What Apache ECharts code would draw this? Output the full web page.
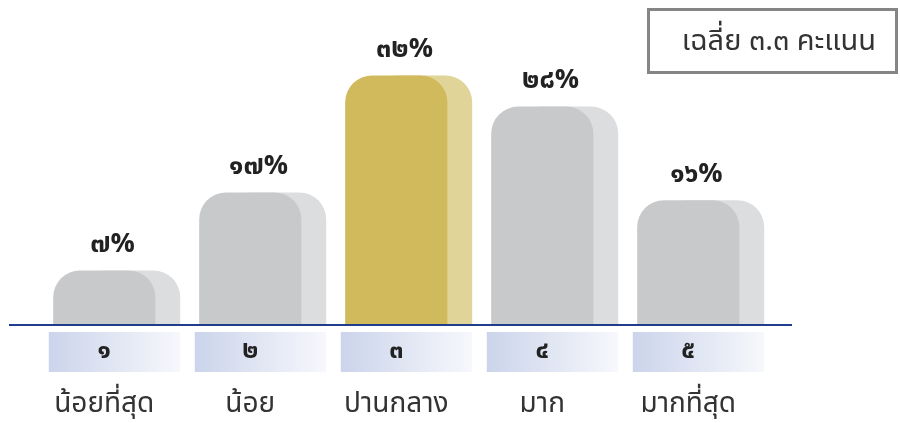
<!DOCTYPE html>
<html>
<head>
<meta charset="utf-8">
<script src="https://cdn.jsdelivr.net/npm/echarts@6/dist/echarts.min.js"></script>
<style>
html,body{margin:0;padding:0;background:#fff;}
#chart{width:900px;height:423px;}
</style>
</head>
<body>
<div id="chart"></div>
<script>
// ---- data ----
var categories = ['น้อยที่สุด', 'น้อย', 'ปานกลาง', 'มาก', 'มากที่สุด'];
var scoreLabels = ['๑', '๒', '๓', '๔', '๕'];
var percents = [7, 17, 32, 28, 16];
var highlightIndex = 2;
var averageText = 'เฉลี่ย ๓.๓ คะแนน';

var THAI_DIGITS = ['๐','๑','๒','๓','๔','๕','๖','๗','๘','๙'];
function toThai(n) {
  return String(n).replace(/[0-9]/g, function (d) { return THAI_DIGITS[+d]; });
}

var FONT = '"Noto Sans Thai", "Noto Sans", sans-serif';

var chart = echarts.init(document.getElementById('chart'), null, {renderer: 'canvas'});

function renderItem(params, api) {
  var i = api.value(0);
  var v = api.value(1);
  var top = api.coord([i, v]);
  var base = api.coord([i, 0]);
  var bw = api.size([1, 0])[0];
  var cx = top[0];
  var mainLeft = cx - 0.42 * bw;
  var mainW = 0.70 * bw;
  var shadowOff = 0.17 * bw;
  var h = base[1] - top[1];
  var r = Math.min(27, h);
  var hl = i === highlightIndex;
  var mainColor = hl ? '#d0ba5c' : '#c8c9cb';
  var shadowColor = hl ? '#e0d499' : '#dcdddf';
  var mainCx = mainLeft + mainW / 2;
  var boxLeft = cx - 0.45 * bw;
  var boxW = 0.9 * bw;
  return {
    type: 'group',
    children: [
      {
        type: 'rect',
        shape: {x: mainLeft + shadowOff, y: top[1], width: mainW, height: h, r: [r, r, 0, 0]},
        style: {fill: shadowColor}
      },
      {
        type: 'rect',
        shape: {x: mainLeft, y: top[1], width: mainW, height: h, r: [r, r, 0, 0]},
        style: {fill: mainColor}
      },
      {
        type: 'text',
        x: cx - 2, y: top[1] - 24,
        style: {
          text: toThai(percents[i]) + '%',
          fill: '#222', font: 'bold 27px ' + FONT,
          align: 'center', verticalAlign: 'middle'
        }
      },
      {
        type: 'rect',
        shape: {x: boxLeft, y: base[1] + 7, width: boxW, height: 40},
        style: {
          fill: new echarts.graphic.LinearGradient(0, 0, 1, 0, [
            {offset: 0, color: '#cbd4eb'},
            {offset: 1, color: '#f7f8fc'}
          ])
        }
      },
      {
        type: 'text',
        x: mainCx, y: base[1] + 28,
        style: {
          text: scoreLabels[i],
          fill: '#222', font: 'bold 25px ' + FONT,
          align: 'center', verticalAlign: 'middle'
        }
      },
      {
        type: 'text',
        x: mainCx, y: base[1] + 81,
        style: {
          text: categories[i],
          fill: '#333', font: '28px ' + FONT,
          align: 'center', verticalAlign: 'middle'
        }
      }
    ]
  };
}

var option = {
  animation: false,
  backgroundColor: '#fff',
  grid: {left: 41.5, right: 128.5, top: 13, bottom: 98},
  xAxis: {
    type: 'category',
    data: categories,
    axisLine: {show: false},
    axisTick: {show: false},
    axisLabel: {show: false}
  },
  yAxis: {
    type: 'value', min: 0, max: 40,
    show: false, splitLine: {show: false}
  },
  graphic: [
    {
      type: 'line',
      shape: {x1: 9, y1: 325, x2: 792, y2: 325},
      style: {stroke: '#1f3d8c', lineWidth: 2},
      z: 100
    },
    {
      type: 'rect',
      shape: {x: 648.5, y: 9.5, width: 248, height: 63},
      style: {fill: '#fff', stroke: '#858585', lineWidth: 3}
    },
    {
      type: 'text',
      x: 779, y: 44,
      style: {
        text: averageText,
        fill: '#333', font: '29px ' + FONT,
        align: 'center', verticalAlign: 'middle'
      }
    }
  ],
  series: [{
    type: 'custom',
    renderItem: renderItem,
    encode: {x: 0, y: 1},
    data: percents.map(function (p, i) { return [i, p]; }),
    clip: false
  }]
};
chart.setOption(option);
</script>
</body>
</html>
